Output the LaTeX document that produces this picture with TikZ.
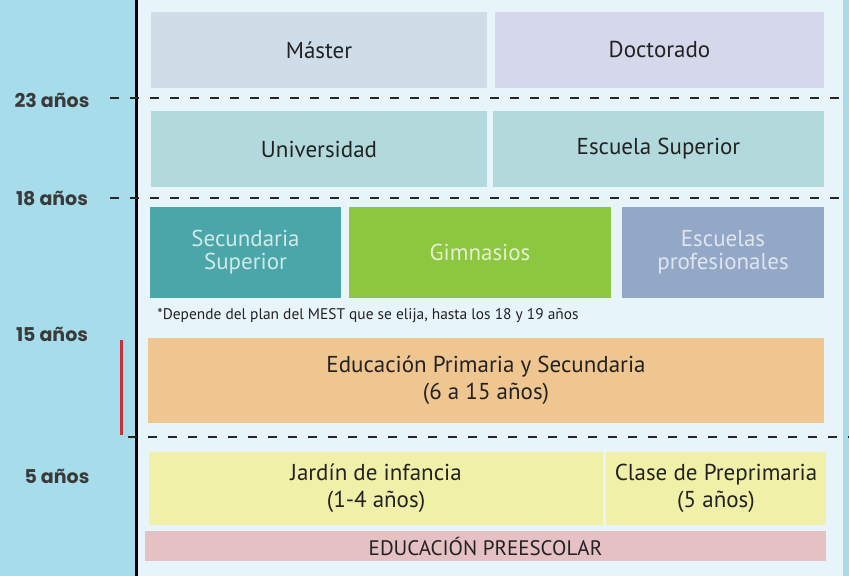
\documentclass[tikz,border=0pt]{standalone}
\usepackage{fontspec}
\setmainfont{PT Sans}
\newfontfamily\agefont{Poppins}
\usetikzlibrary{positioning}

\definecolor{sidebg}{HTML}{A7DDEB}
\definecolor{mainbg}{HTML}{E7F4F9}
\definecolor{masterc}{HTML}{CFDDE8}
\definecolor{doctorc}{HTML}{D5D7EB}
\definecolor{unic}{HTML}{B2D9DC}
\definecolor{secc}{HTML}{4AA6A8}
\definecolor{gimc}{HTML}{8DC63F}
\definecolor{profc}{HTML}{93A8C7}
\definecolor{primc}{HTML}{F0C690}
\definecolor{jardc}{HTML}{F0F0A8}
\definecolor{presc}{HTML}{E5C1C4}
\definecolor{redline}{HTML}{C8303A}
\definecolor{textgray}{HTML}{222222}
\definecolor{agegray}{HTML}{3A3A3A}

\begin{document}
\begin{tikzpicture}[x=0.5pt, y=-0.5pt,
    box/.style={rectangle, inner sep=0pt, align=center, text=textgray,
        font=\fontsize{11.5}{13.5}\selectfont},
    lightbox/.style={box, font=\fontsize{11.5}{11.5}\selectfont},
    age/.style={font=\agefont\bfseries\fontsize{9.5}{11}\selectfont, text=agegray},
    level/.style={line width=1.4pt, black!85, dash pattern=on 4.5pt off 5.5pt}]
    \useasboundingbox (0,0) rectangle (849,576);

    % background
    \fill[sidebg] (0,0) rectangle (849,576);
    \fill[mainbg] (137,0) rectangle (843,576);
    \draw[line width=1.5pt, black] (136,0) -- (136,576);

    % higher education
    \node[box, fill=masterc, minimum width=168pt, minimum height=38pt] (master) at (319,50) {Máster};
    \node[box, fill=doctorc, minimum width=164.5pt, minimum height=38pt] (doctor) at (659.5,50) {Doctorado};
    \node[box, fill=unic, minimum width=168pt, minimum height=38pt] (uni) at (319,149) {Universidad};
    \node[box, fill=unic, minimum width=165.5pt, minimum height=38pt] (escsup) at (658.5,149) {Escuela Superior};

    % secondary
    \node[lightbox, fill=secc, text=secc!25!white, minimum width=95.5pt, minimum height=45.5pt] (secund) at (245.5,252.5) {Secundaria\\Superior};
    \node[lightbox, fill=gimc, text=gimc!25!white, minimum width=131pt, minimum height=45.5pt] (gimn) at (480,252.5) {Gimnasios};
    \node[lightbox, fill=profc, text=profc!30!white, minimum width=101pt, minimum height=45.5pt] (prof) at (723,252.5) {Escuelas\\profesionales};
    \node[anchor=west, inner sep=0pt, text=textgray, font=\fontsize{7.7}{9}\selectfont] (note) at (157,316)
        {*Depende del plan del MEST que se elija, hasta los 18 y 19 años};

    % primary
    \node[box, fill=primc, minimum width=338pt, minimum height=42.5pt] (prim) at (486,380.5) {Educación Primaria y Secundaria\\(6 a 15 años)};

    % preschool
    \node[box, fill=jardc, minimum width=227pt, minimum height=36.5pt] (jardin) at (376,488.5) {Jardín de infancia\\(1-4 años)};
    \node[box, fill=jardc, minimum width=110pt, minimum height=36.5pt] (clase) at (716,488.5) {Clase de Preprimaria\\(5 años)};
    \node[box, fill=presc, minimum width=340.5pt, minimum height=15pt, font=\fontsize{10.5}{12}\selectfont] (presc) at (485.5,546) {EDUCACIÓN PREESCOLAR};

    % ages
    \node[age] (a23) at (52,100) {23 años};
    \node[age] (a18) at (52,198) {18 años};
    \node[age] (a15) at (52,334) {15 años};
    \node[age] (a5) at (57,476) {5 años};

    \draw[level] (110,98) -- (849,98);
    \draw[level] (110,198) -- (849,198);
    \draw[level] (128,437) -- (849,437);
    \draw[line width=1.5pt, redline] (121,340) -- (121,435);
\end{tikzpicture}
\end{document}
